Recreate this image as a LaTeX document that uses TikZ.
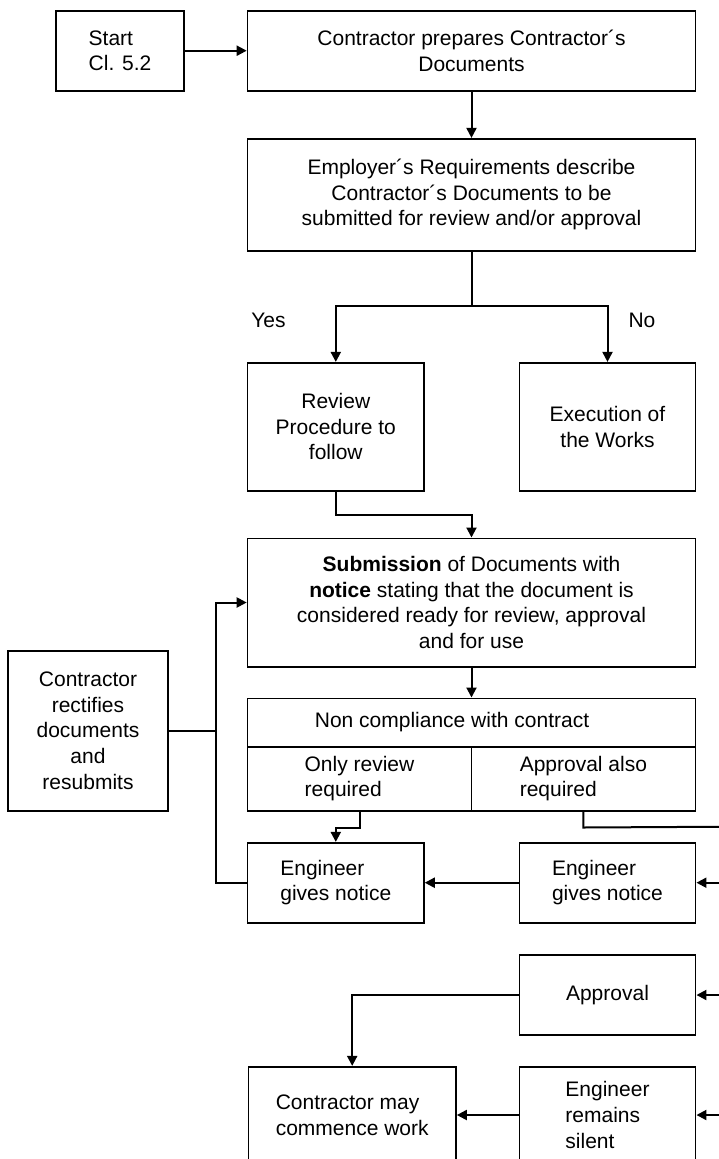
\documentclass[tikz,border=0pt]{standalone}
\usepackage{fontspec}
\setmainfont{Liberation Sans}
\usetikzlibrary{arrows.meta}

\begin{document}
\begin{tikzpicture}[x=1pt, y=-1pt, >={Triangle[length=10pt,width=10pt]},
        font=\fontsize{21}{25.6}\selectfont,
        box/.style={draw, line width=1.6pt, inner sep=0pt, align=center},
        link/.style={line width=2pt}]
        \useasboundingbox (0,0) rectangle (719,1159);
        \clip (0,0) rectangle (719,1159);
        \node[box, align=left, minimum width=128pt, minimum height=80pt] (start) at (120,50.7) {Start\\Cl. 5.2};
        \node[box, minimum width=448pt, minimum height=80pt] (prep) at (471.5,50.7) {Contractor prepares Contractor´s\\Documents};
        \node[box, minimum width=448pt, minimum height=112pt] (req) at (471.5,194.7) {Employer´s Requirements describe\\Contractor´s Documents to be\\submitted for review and/or approval};
        \node (yes) at (268.5,320) {Yes};
        \node (no) at (642,320) {No};
        \node[box, minimum width=176.3pt, minimum height=128pt] (review) at (335.8,426.7) {Review\\Procedure to\\follow};
        \node[box, minimum width=176.3pt, minimum height=128pt] (exec) at (607.5,426.7) {Execution of\\the Works};
        \node[box, minimum width=448pt, minimum height=128.4pt] (sub) at (471.5,602.5) {\textbf{Submission} of Documents with\\\textbf{notice} stating that the document is\\considered ready for review, approval\\and for use};
        \node[box, minimum width=160.5pt, minimum height=160pt] (rect) at (88,730.7) {Contractor\\rectifies\\documents\\and\\resubmits};
        \node[box, minimum width=448pt, minimum height=48.4pt] (nctop) at (471.5,722.5) {};
        \node (nctext) at (452,722.5) {Non compliance with contract};
        \node[box, align=left, minimum width=223.7pt, minimum height=64pt] (only) at (359.5,778.7) {Only review\\required};
        \node[box, align=left, minimum width=224.2pt, minimum height=64pt] (also) at (583.4,778.7) {Approval also\\required};
        \node[box, align=left, minimum width=176.3pt, minimum height=80pt] (egnA) at (335.8,882.7) {Engineer\\gives notice};
        \node[box, align=left, minimum width=176.3pt, minimum height=80pt] (egnB) at (607.5,882.7) {Engineer\\gives notice};
        \node[box, minimum width=176.3pt, minimum height=80pt] (appr) at (607.5,995) {Approval};
        \node[box, align=left, minimum width=207.7pt, minimum height=96.6pt] (cmc) at (352.2,1115) {Contractor may\\commence work};
        \node[box, align=left, minimum width=176.3pt, minimum height=96.6pt] (ers) at (607.5,1115) {Engineer\\remains\\silent};
        \coordinate (split) at (471.5,306);
        \coordinate (trunk) at (730,826.7);
        \coordinate (loop) at (215.5,0);
        \draw[link, ->] (start) -- (prep);
        \draw[link, ->] (prep) -- (req);
        \draw[link] (req) -- (split);
        \draw[link, ->] (split) -| (review);
        \draw[link, ->] (split) -| (exec);
        \draw[link, ->] (review.south) -- ++(0,23.6) -| (sub);
        \draw[link, ->] (sub) -- (nctop);
        \draw[link, ->] (only.south) -- ++(0,16) -| (egnA);
        \draw[link] (also.south) -- ++(0,16) -- (trunk) -- (trunk |- ers);
        \foreach \n in {egnB, appr, ers}
        \draw[link, ->] (trunk |- \n) -- (\n);
        \draw[link, ->] (egnB) -- (egnA);
        \draw[link, ->] (appr) -| (cmc);
        \draw[link, ->] (ers) -- (cmc);
        \draw[link, ->] (egnA) -- (loop |- egnA) -- (loop |- sub) -- (sub);
        \draw[link] (rect) -- (loop |- rect);
      \end{tikzpicture}
\end{document}
